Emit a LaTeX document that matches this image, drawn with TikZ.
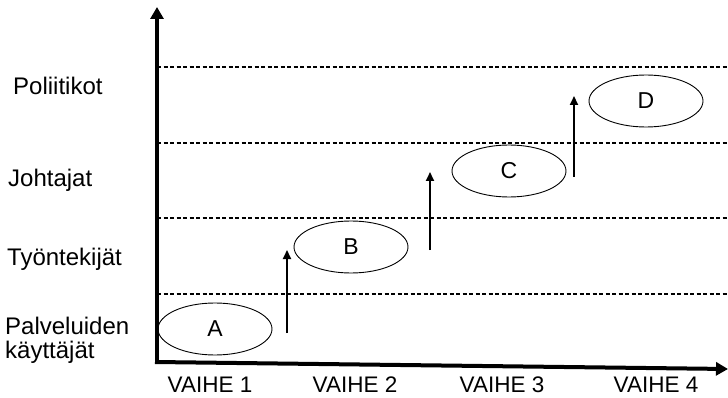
\documentclass[tikz,border=0pt]{standalone}
\usepackage{fontspec}
\setmainfont{Liberation Sans}
\usetikzlibrary{arrows.meta,shapes.geometric}
\begin{document}
\begin{tikzpicture}[x=1pt,y=-1pt,
  lbl/.style={font=\fontsize{24}{25}\selectfont, inner sep=0pt},
  steplbl/.style={font=\fontsize{22.5}{24}\selectfont, inner sep=0pt},
  phase/.style={ellipse, draw, line width=0.9pt, minimum width=114pt, minimum height=52pt,
    inner sep=0pt, font=\fontsize{23}{24}\selectfont},
  level/.style={line width=1.3pt, dash pattern=on 4pt off 2.5pt},
  axis/.style={line width=4pt, -{Triangle[width=13pt,length=12pt]}},
  rise/.style={line width=2pt, -{Triangle[width=8pt,length=9pt]}}]
  \useasboundingbox (0,0) rectangle (728,398);

  % axes
  \coordinate (o) at (157,362);
  \coordinate (ytop) at (157,7);
  \coordinate (xend) at (728,369);

  % level separators
  \foreach \y/\n in {67/l1,143/l2,218/l3,294/l4} {
    \coordinate (\n w) at (157,\y);
    \coordinate (\n e) at (728,\y);
    \draw[level] (\n w) -- (\n e);
  }

  \draw[axis] (o) -- (ytop);
  \draw[axis] ([xshift=-2pt]o) -- (xend);

  % level labels
  \node[lbl, anchor=base west] (pol) at (13,95) {Poliitikot};
  \node[lbl, anchor=base west] (joh) at (8,187) {Johtajat};
  \node[lbl, anchor=base west] (tyo) at (7,265) {Työntekijät};
  \node[lbl, anchor=base west] (pal) at (5,334) {Palveluiden};
  \node[lbl, anchor=base west] (kay) at (5,358) {käyttäjät};

  % phase labels
  \node[steplbl, anchor=base] (v1) at (210,392) {VAIHE 1};
  \node[steplbl, anchor=base] (v2) at (355,392) {VAIHE 2};
  \node[steplbl, anchor=base] (v3) at (502,392) {VAIHE 3};
  \node[steplbl, anchor=base] (v4) at (656,392) {VAIHE 4};

  % phases
  \node[phase] (A) at (215,329) {A};
  \node[phase] (B) at (351,247) {B};
  \node[phase] (C) at (509,171) {C};
  \node[phase] (D) at (646,101) {D};

  % transitions
  \coordinate (r1b) at (287,333); \coordinate (r1t) at (287,250);
  \coordinate (r2b) at (430,250); \coordinate (r2t) at (430,172);
  \coordinate (r3b) at (574,177); \coordinate (r3t) at (574,96);
  \draw[rise] (r1b) -- (r1t);
  \draw[rise] (r2b) -- (r2t);
  \draw[rise] (r3b) -- (r3t);
\end{tikzpicture}
\end{document}
